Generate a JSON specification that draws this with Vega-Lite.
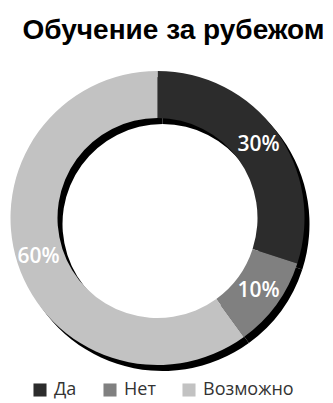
{
  "$schema": "https://vega.github.io/schema/vega-lite/v6.json",
  "autosize": {"type": "none"},
  "width": 315,
  "height": 316,
  "padding": {"left": 0, "right": 18, "top": 60, "bottom": 27},
  "background": "white",
  "title": {
    "text": "Обучение за рубежом",
    "font": "Liberation Sans",
    "fontSize": 28,
    "fontWeight": "bold",
    "color": "#000000",
    "anchor": "middle",
    "dx": 16,
    "offset": 15
  },
  "data": {
    "values": [
      {"answer": "Да", "share": 30, "label": "30%", "ord": 1},
      {"answer": "Нет", "share": 10, "label": "10%", "ord": 2},
      {"answer": "Возможно", "share": 60, "label": "60%", "ord": 3}
    ]
  },
  "encoding": {
    "theta": {"field": "share", "type": "quantitative", "stack": true},
    "order": {"field": "ord", "type": "quantitative"}
  },
  "layer": [
    {
      "mark": {"type": "arc", "outerRadius": 147, "innerRadius": 100, "color": "#000000", "x": {"expr": "width/2+5"}, "y": {"expr": "height/2+6"}}
    },
    {
      "mark": {"type": "arc", "outerRadius": 147, "innerRadius": 100, "x": {"expr": "width/2"}, "y": {"expr": "height/2"}},
      "encoding": {
        "color": {
          "field": "answer",
          "type": "nominal",
          "scale": {"domain": ["Да", "Нет", "Возможно"], "range": ["#2c2c2c", "#808080", "#c2c2c2"]},
          "legend": {
            "title": null,
            "orient": "none",
            "legendX": 31,
            "legendY": 321,
            "padding": 0,
            "direction": "horizontal",
            "symbolType": "square",
            "symbolSize": 170,
            "symbolStrokeWidth": 0,
            "labelFont": "Open Sans",
            "labelFontSize": 18,
            "labelColor": "#333333",
            "labelOffset": 5,
            "columnPadding": 24
          }
        }
      }
    },
    {
      "mark": {"type": "text", "radius": 125, "font": "Open Sans", "fontSize": 21, "fontWeight": 600, "color": "white", "x": {"expr": "width/2"}, "y": {"expr": "height/2"}},
      "encoding": {"text": {"field": "label"}}
    }
  ],
  "config": {"view": {"stroke": null}}
}
